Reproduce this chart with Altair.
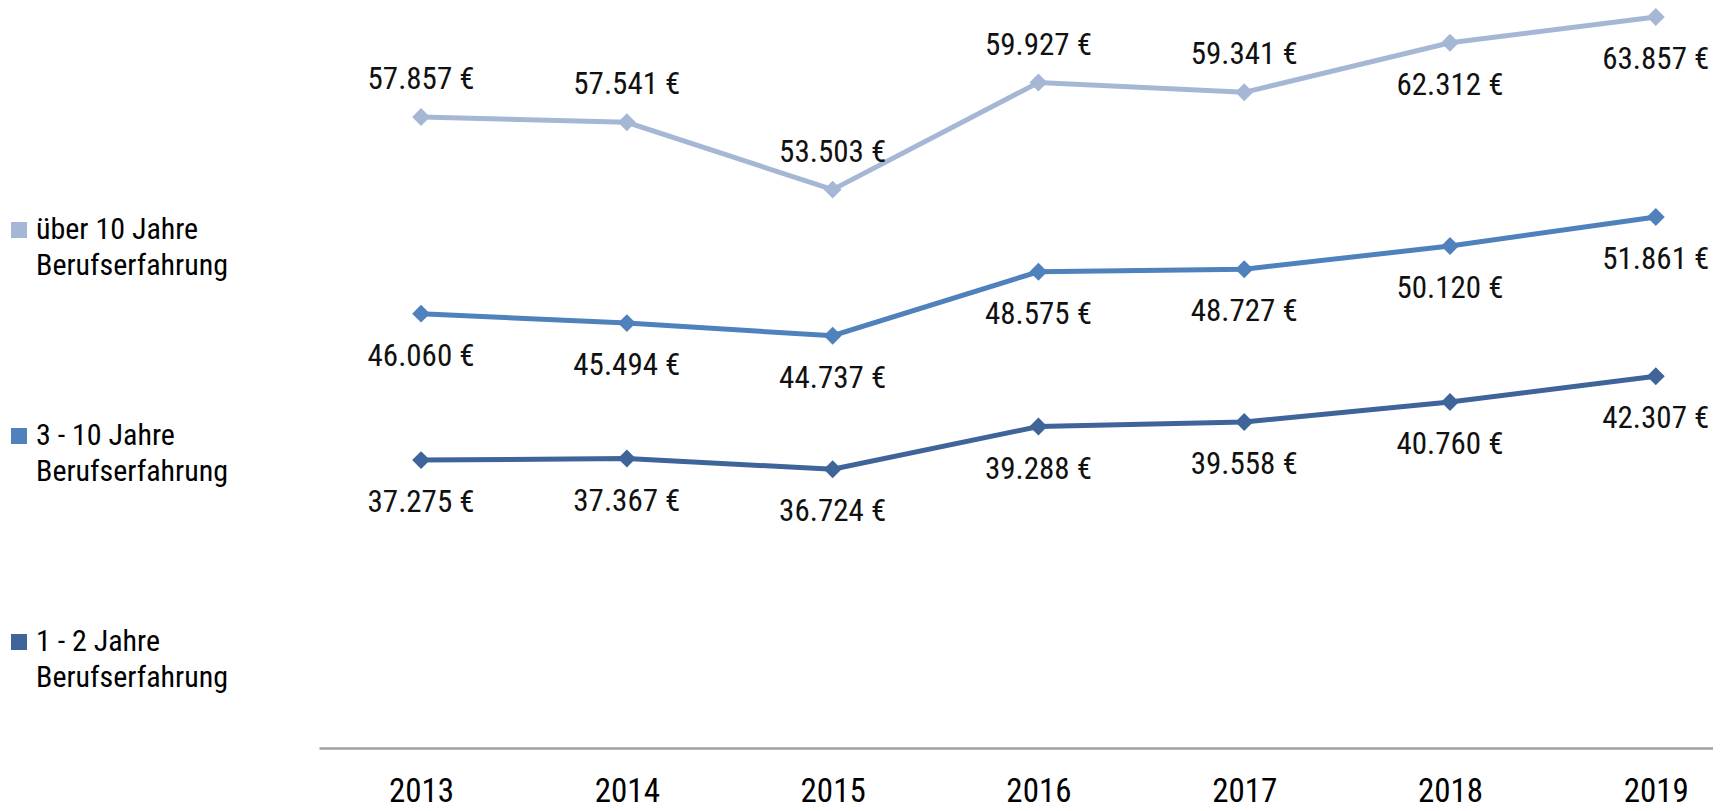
import altair as alt
import pandas as pd

years = [2013, 2014, 2015, 2016, 2017, 2018, 2019]
series_names = [
    "über 10 Jahre Berufserfahrung",
    "3 - 10 Jahre Berufserfahrung",
    "1 - 2 Jahre Berufserfahrung",
]
ueber_10 = [57857, 57541, 53503, 59927, 59341, 62312, 63857]
drei_bis_10 = [46060, 45494, 44737, 48575, 48727, 50120, 51861]
eins_bis_2 = [37275, 37367, 36724, 39288, 39558, 40760, 42307]
colors = ["#A6B7D5", "#4F81BD", "#3E6499"]

FONT = "Liberation Sans Narrow, Arial Narrow, Roboto Condensed, DejaVu Sans Condensed, sans-serif"

rows = []
for si, (name, vals) in enumerate(zip(series_names, [ueber_10, drei_bis_10, eins_bis_2])):
    for yr, v in zip(years, vals):
        rows.append({
            "Jahr": yr,
            "Gruppe": name,
            "Gehalt": v,
            "Label": f"{v:,}".replace(",", ".") + " €",
            "oben": si == 0 and yr <= 2017,
        })
df = pd.DataFrame(rows)

x = alt.X("Jahr:Q", scale=alt.Scale(domain=[2012.504, 2019.278], nice=False, zero=False),
          axis=alt.Axis(values=years, format="d", title=None, ticks=False, grid=False,
                        labelFontSize=33, labelFont=FONT, labelColor="#000000",
                        labelPadding=27, domainColor="#A0A0A0", domainWidth=2.5,
                        labelFlush=False))
y = alt.Y("Gehalt:Q", scale=alt.Scale(domain=[20000, 64400], nice=False, zero=False),
          axis=None)
color = alt.Color("Gruppe:N", scale=alt.Scale(domain=series_names, range=colors),
                  legend=alt.Legend(title=None, orient="none", legendX=-315, legendY=207,
                                    symbolType="square", symbolSize=256, symbolStrokeWidth=0,
                                    labelFont=FONT, labelFontSize=30, labelColor="#000000",
                                    labelLimit=400, labelOffset=2, rowPadding=140, padding=0,
                                    labelExpr="[replace(datum.label, ' Berufserfahrung', ''), 'Berufserfahrung']"))

base = alt.Chart(df).encode(x=x, y=y, color=color)

lines = base.mark_line(strokeWidth=5)
points = base.mark_point(shape="diamond", size=320, filled=True, opacity=1)
lab_up = base.mark_text(fontSize=31, font=FONT, dy=-37, color="#111111").encode(
    text="Label:N", color=alt.value("#111111")).transform_filter("datum.oben")
lab_down = base.mark_text(fontSize=31, font=FONT, dy=43, color="#111111").encode(
    text="Label:N", color=alt.value("#111111")).transform_filter("!datum.oben")

chart = alt.layer(lines, points, lab_up, lab_down).properties(
    width=1394, height=740,
    autosize=alt.AutoSizeParams(type="none"),
    padding={"left": 311, "top": 0, "right": 0, "bottom": 62},
).configure(style={"guide-label": {"lineHeight": 36}}).configure_view(stroke=None)

chart.save("out.html", embed_options={"renderer": "svg", "actions": False})
